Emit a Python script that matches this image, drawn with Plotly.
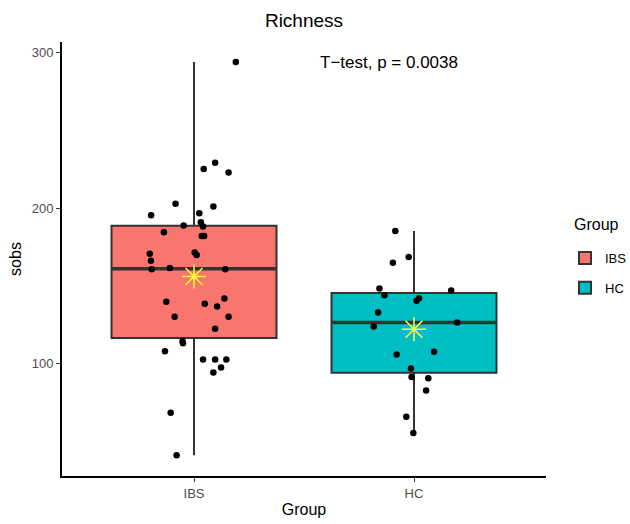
import numpy as np
import plotly.graph_objects as go

groups = ["IBS", "HC"]
colors = ["#F8766D", "#00BFC4"]

ibs_sobs = [294.2, 229.3, 225.2, 223.0, 202.9, 201.0, 195.4, 196.7, 190.9, 188.9,
            188.1, 184.4, 182.1, 182.1, 170.7, 171.4, 169.9, 166.2, 160.6, 161.5,
            160.6, 139.7, 138.4, 136.7, 141.8, 130.0, 130.0, 122.3, 114.3, 113.0,
            107.9, 102.6, 102.6, 102.6, 97.4, 94.2, 68.3, 40.8]
ibs_jitter = [0.190, 0.096, 0.044, 0.157, -0.084, 0.088, -0.195, 0.024, 0.031, -0.047,
              0.041, -0.137, 0.035, 0.046, -0.201, 0.003, 0.012, -0.196, -0.192, -0.110,
              0.142, -0.126, 0.049, 0.105, 0.138, -0.088, 0.157, 0.096, -0.052, -0.050,
              -0.132, 0.041, 0.096, 0.147, 0.123, 0.088, -0.106, -0.079]

hc_sobs = [185.3, 168.6, 164.8, 148.2, 143.9, 146.9, 142.0, 140.3, 132.8, 123.8,
           126.4, 105.8, 107.5, 96.8, 91.2, 90.5, 82.6, 65.7, 55.2]
hc_jitter = [-0.085, -0.024, -0.096, -0.157, -0.134, 0.169, 0.023, 0.012, -0.163, -0.183,
             0.196, -0.079, 0.091, -0.014, -0.011, 0.065, 0.055, -0.035, -0.003]

y_ticks = [100, 200, 300]
annotation_text = "T\u2212test, p = 0.0038"

data = [ibs_sobs, hc_sobs]
jitters = [ibs_jitter, hc_jitter]
positions = [1, 2]
box_w = 0.75

FONT = "Liberation Sans, Arial, sans-serif"
fig = go.Figure()

for g, col, vals, pos in zip(groups, colors, data, positions):
    v = np.array(vals)
    q1, med, q3 = np.percentile(v, [25, 50, 75])
    iqr = q3 - q1
    lo = v[v >= q1 - 1.5 * iqr].min()
    hi = v[v <= q3 + 1.5 * iqr].max()
    fig.add_trace(go.Box(
        x=[pos], q1=[q1], median=[med], q3=[q3], lowerfence=[lo], upperfence=[hi],
        width=box_w, fillcolor=col, line=dict(color="#333333", width=2),
        whiskerwidth=0, boxpoints=False, name=g, legendgroup=g, showlegend=True,
        hoverinfo="skip"))
    # thicker median
    fig.add_trace(go.Scatter(
        x=[pos - box_w / 2, pos + box_w / 2], y=[med, med], mode="lines",
        line=dict(color="#333333", width=3.5), showlegend=False, hoverinfo="skip"))

for g, vals, jit, pos in zip(groups, data, jitters, positions):
    fig.add_trace(go.Scatter(
        x=[pos + j for j in jit], y=vals, mode="markers",
        marker=dict(color="black", size=6.5), showlegend=False, hoverinfo="skip"))

for g, vals, pos in zip(groups, data, positions):
    fig.add_trace(go.Scatter(
        x=[pos], y=[float(np.mean(vals))], mode="markers",
        marker=dict(symbol="asterisk-open", size=20, color="#FFFF33",
                    line=dict(color="#FFFF33", width=1.5)),
        showlegend=False, hoverinfo="skip"))

fig.add_annotation(x=1.886, y=294, text=annotation_text, showarrow=False,
                   font=dict(size=17, color="black", family=FONT),
                   xanchor="center", yanchor="middle")

# legend title placed as text
fig.add_annotation(x=(572 - 62) / 484, y=1 - (224 - 42) / 434, xref="paper", yref="paper",
                   text="Group", showarrow=False, xanchor="left", yanchor="middle",
                   font=dict(size=16, color="black", family=FONT))

fig.update_layout(
    width=630, height=524,
    margin=dict(l=62, r=84, t=42, b=48, autoexpand=False),
    plot_bgcolor="white", paper_bgcolor="white",
    font=dict(family=FONT),
    title=dict(text="Richness", x=0.5, xref="paper", xanchor="center",
               y=1 - 20 / 524, yref="container", yanchor="middle",
               font=dict(size=19, color="black")),
    xaxis=dict(range=[0.4, 2.6], tickvals=positions, ticktext=groups,
               showline=True, linecolor="black", linewidth=2, ticks="outside",
               ticklen=4, tickcolor="#333333", tickwidth=1,
               tickfont=dict(size=13, color="#4D4D4D"), showgrid=False, zeroline=False,
               title=dict(text="Group", font=dict(size=16, color="black"), standoff=4)),
    yaxis=dict(range=[27.5, 307], tickvals=y_ticks, showline=True, linecolor="black",
               linewidth=2, ticks="outside", ticklen=4, tickcolor="#333333", tickwidth=1,
               tickfont=dict(size=13, color="#4D4D4D"), showgrid=False, zeroline=False,
               title=dict(text="sobs", font=dict(size=16, color="black"), standoff=6)),
    legend=dict(font=dict(size=13, color="black"), x=(565 - 62) / 484, xanchor="left",
                y=1 - (243 - 42) / 434, yanchor="top", tracegroupgap=10,
                bgcolor="rgba(0,0,0,0)"),
)

fig.write_html("out.html")
